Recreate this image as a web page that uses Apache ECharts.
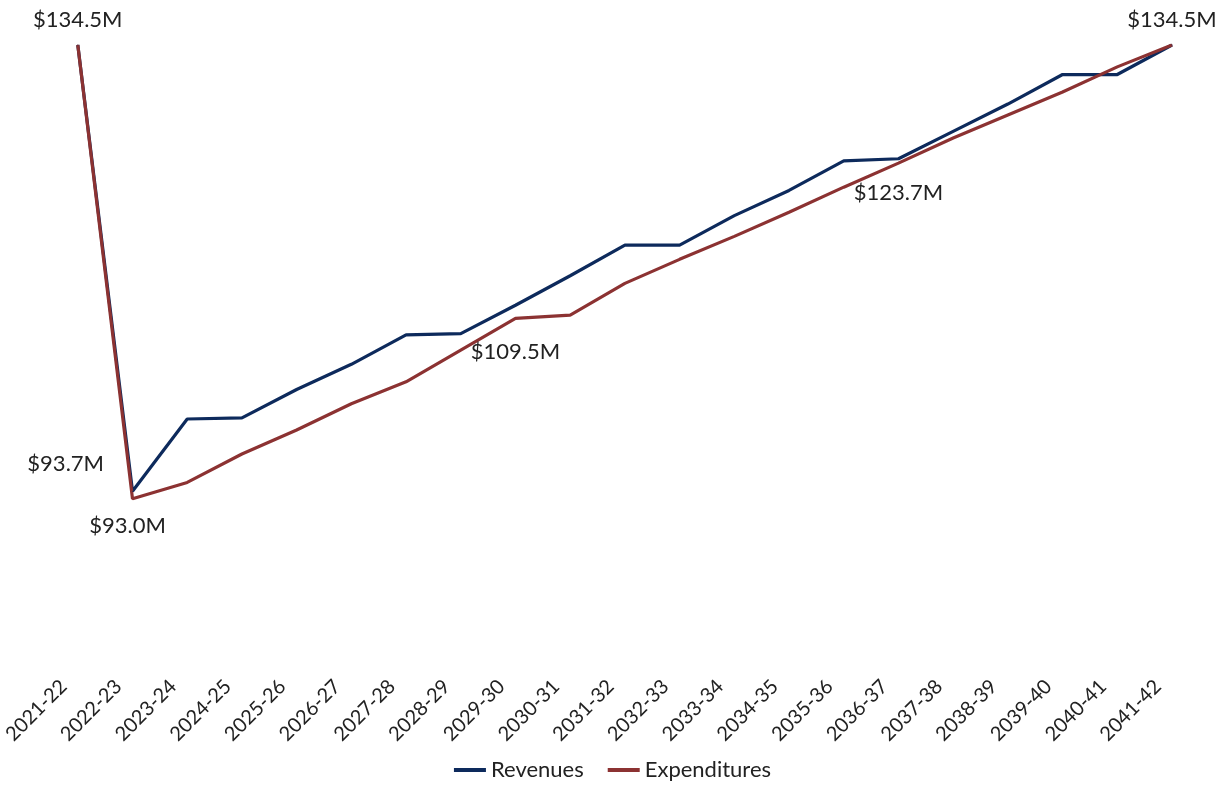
<!DOCTYPE html>
<html>
<head>
<meta charset="utf-8">
<script src="https://cdn.jsdelivr.net/npm/echarts@6/dist/echarts.min.js"></script>
<style>
  html, body { margin: 0; padding: 0; background: #fff; }
  #container { width: 1225px; height: 786px; }
</style>
</head>
<body>
<div id="container"></div>
<script>
// fiscal years
var years = ['2021-22','2022-23','2023-24','2024-25','2025-26','2026-27','2027-28','2028-29','2029-30','2030-31',
  '2031-32','2032-33','2033-34','2034-35','2035-36','2036-37','2037-38','2038-39','2039-40','2040-41','2041-42'];
// $ millions
var revenues = [134.5, 93.7, 100.3, 100.4, 103.0, 105.3, 108.0, 108.1, 110.7, 113.4,
  116.2, 116.2, 118.9, 121.2, 123.9, 124.1, 126.6, 129.1, 131.8, 131.8, 134.5];
var expenditures = [134.5, 93.0, 94.5, 97.1, 99.3, 101.7, 103.7, 106.6, 109.5, 109.8,
  112.7, 114.9, 117.0, 119.2, 121.5, 123.7, 126.0, 128.1, 130.2, 132.5, 134.5];

var fontFam = 'Lato, "Open Sans", sans-serif';

function money(p) {
  return '$' + p.value.toFixed(1) + 'M';
}

// label placement per point (only the labelled ones)
var revLabels = {
  1: { position: 'left', distance: 4, offset: [-24, -27] }
};
var expLabels = {
  0: { position: 'top', distance: 14 },
  1: { position: 'bottom', distance: 16, offset: [-5, 0] },
  8: { position: 'bottom', distance: 22 },
  15: { position: 'bottom', distance: 18 },
  20: { position: 'top', distance: 14 }
};

function buildData(values, labels) {
  return values.map(function (v, i) {
    if (labels[i]) {
      return { value: v, label: Object.assign({ show: true }, labels[i]) };
    }
    return v;
  });
}

var chart = echarts.init(document.getElementById('container'));
chart.setOption({
  backgroundColor: '#fff',
  animation: false,
  grid: { left: 73, right: 53, top: 45, bottom: 145, containLabel: false },
  legend: {
    bottom: 0,
    left: 'center',
    itemWidth: 32,
    itemHeight: 4,
    itemGap: 24,
    icon: 'rect',
    textStyle: { fontFamily: fontFam, fontSize: 22, color: '#222' },
    data: ['Revenues', 'Expenditures']
  },
  xAxis: {
    type: 'category',
    data: years,
    boundaryGap: false,
    axisLine: { show: false },
    axisTick: { show: false },
    axisLabel: {
      rotate: 45,
      margin: 28,
      padding: [0, 20, 0, 0],
      interval: 0,
      fontFamily: fontFam,
      fontSize: 20,
      color: '#222'
    }
  },
  yAxis: {
    type: 'value',
    min: 80,
    max: 134.5,
    show: false,
    splitLine: { show: false }
  },
  series: [
    {
      name: 'Revenues',
      type: 'line',
      data: buildData(revenues, revLabels),
      symbol: 'circle',
      symbolSize: 1,
      showSymbol: true,
      lineStyle: { width: 3.2, color: '#0d2a5c' },
      itemStyle: { color: '#0d2a5c' },
      label: { show: false, formatter: money, fontFamily: fontFam, fontSize: 22, color: '#222' }
    },
    {
      name: 'Expenditures',
      type: 'line',
      data: buildData(expenditures, expLabels),
      symbol: 'circle',
      symbolSize: 1,
      showSymbol: true,
      lineStyle: { width: 3.2, color: '#8c3232' },
      itemStyle: { color: '#8c3232' },
      label: { show: false, formatter: money, fontFamily: fontFam, fontSize: 22, color: '#222' }
    }
  ]
});
</script>
</body>
</html>
